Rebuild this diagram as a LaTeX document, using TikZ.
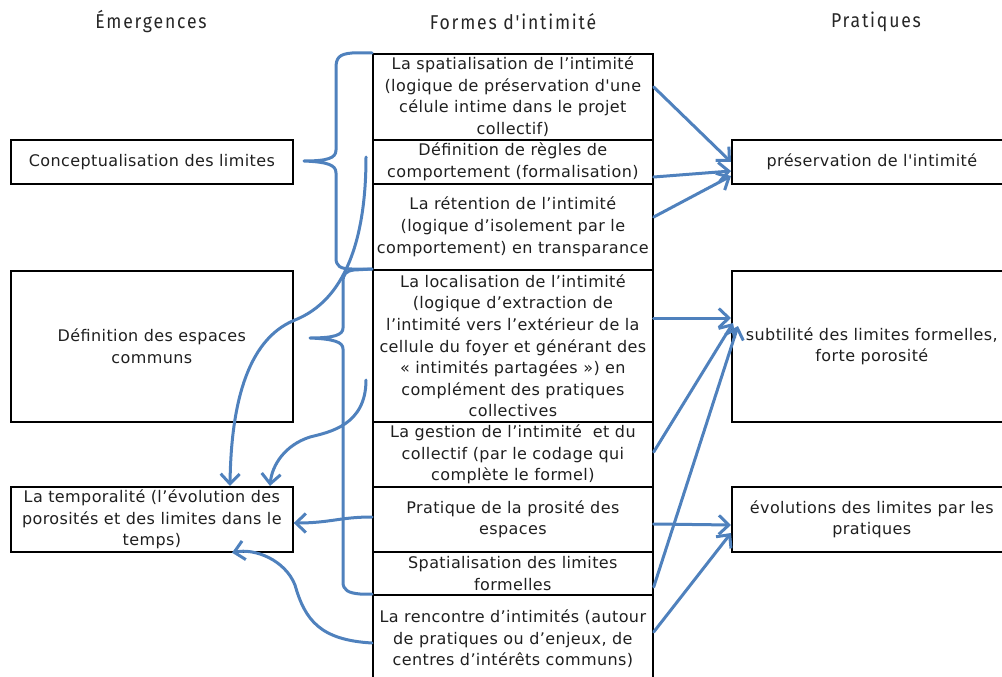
\documentclass[tikz,border=0pt]{standalone}
\usepackage{fontspec}
\setmainfont{DejaVu Sans}[LetterSpace=2.5, Ligatures=TeXOff]
\newfontfamily\headfont{Fira Sans}[FakeStretch=0.88, LetterSpace=9, Ligatures=TeXOff]
\usetikzlibrary{arrows.meta}
\definecolor{bl}{RGB}{79,129,189}
\begin{document}
\begin{tikzpicture}[x=1pt,y=-1pt,
  box/.style={draw=black, line width=1.7pt, inner sep=0pt, align=center, anchor=north west,
    font=\fontsize{16}{21.6}\selectfont, text=black!88},
  head/.style={font=\headfont\fontsize{20}{22}\selectfont, text=black!85, inner sep=0pt},
  con/.style={draw=bl, line width=3pt, line cap=round, -{Straight Barb[length=10pt,width=19pt]}},
  bracepath/.style={draw=bl, line width=3pt, line cap=round, line join=round}]
\useasboundingbox (0,0) rectangle (1002,677);
\clip (0,0) rectangle (1002,677);
% headers
\node[head] (h1) at (151,22) {Émergences};
\node[head] (h2) at (513,22) {Formes d'intimité};
\node[head] (h3) at (876,22) {Pratiques};
% left column
\node[box, minimum width=282, minimum height=44] (c) at (10,139) {Conceptualisation des limites};
\node[box, minimum width=282, minimum height=151] (d) at (10,270) {Définition des espaces\\communs};
\node[box, minimum width=282, minimum height=65] (t) at (10,486) {La temporalité (l’évolution des\\porosités et des limites dans le\\temps)};
% middle column
\node[box, minimum width=280, minimum height=86] (m1) at (372,53) {La spatialisation de l’intimité\\(logique de préservation d'une\\célule intime dans le projet\\collectif)};
\node[box, minimum width=280, minimum height=44] (m2) at (372,139) {Définition de règles de\\comportement (formalisation)};
\node[box, minimum width=280, minimum height=86] (m3) at (372,183) {La rétention de l’intimité\\(logique d’isolement par le\\comportement) en transparance};
\node[box, minimum width=280, minimum height=152] (m4) at (372,269) {La localisation de l’intimité\\(logique d’extraction de\\l’intimité vers l’extérieur de la\\cellule du foyer et générant des\\« intimités partagées ») en\\complément des pratiques\\collectives};
\node[box, minimum width=280, minimum height=65] (m5) at (372,421) {La gestion de l’intimité\ \ et du\\collectif (par le codage qui\\complète le formel)};
\node[box, minimum width=280, minimum height=65] (m6) at (372,486) {Pratique de la prosité des\\espaces};
\node[box, minimum width=280, minimum height=43] (m7) at (372,551) {Spatialisation des limites\\formelles};
\node[box, minimum width=280, minimum height=88] (m8) at (372,594) {La rencontre d’intimités (autour\\de pratiques ou d’enjeux, de\\centres d’intérêts communs)};
% right column
\node[box, minimum width=280, minimum height=44] (p1) at (731,139) {préservation de l'intimité};
\node[box, minimum width=280, minimum height=151] (p2) at (731,270) {subtilité des limites formelles,\\forte porosité};
\node[box, minimum width=280, minimum height=65] (p3) at (731,486) {évolutions des limites par les\\pratiques};
% braces
\draw[bracepath] (m1.north west) -- (352,53) .. controls (339,54) and (336,58) .. (336,68)
  -- (336,150) .. controls (336,158) and (328,161) .. (304,161)
  .. controls (328,162) and (336,165) .. (336,173)
  -- (336,258) .. controls (336,266) and (340,269) .. (352,269) -- (m4.north west);
\draw[bracepath] (m4.north west) -- (354,270) .. controls (346,271) and (343,274) .. (343,282)
  -- (343,328) .. controls (343,335) and (334,338) .. (310,338)
  .. controls (334,339) and (343,342) .. (343,349)
  -- (343,582) .. controls (343,590) and (348,593) .. (360,594) -- (m8.north west);
% arrows to the left
\draw[con] (366,157) .. controls (366,240) and (345,300) .. (295,320)
  .. controls (245,340) and (231,410) .. (t.north -| 230,0);
\draw[con] (366,380) .. controls (366,425) and (330,432) .. (310,437)
  .. controls (285,445) and (272,465) .. (t.north -| 270,0);
\draw[con] (m6.west |- 0,517) .. controls (340,517) and (330,523) .. (t.east |- 0,523);
\draw[con] (m8.west |- 0,643) .. controls (320,640) and (305,620) .. (295,585)
  .. controls (285,560) and (255,548) .. (t.south -| 232,0);
% arrows to the right
\draw[con] (m1.east |- 0,87) -- (p1.west |- 0,162);
\draw[con] (m2.east |- 0,177) -- (p1.west |- 0,171);
\draw[con] (m3.east |- 0,217) -- (p1.west |- 0,176);
\draw[con] (m4.east |- 0,318) -- (p2.west |- 0,318);
\draw[con] (m5.east |- 0,452) -- (733,323);
\draw[con] (m7.east |- 0,587) -- (738,326);
\draw[con] (m6.east |- 0,524) -- (p3.west |- 0,525);
\draw[con] (m8.east |- 0,632) -- (p3.west |- 0,533);
\end{tikzpicture}
\end{document}
